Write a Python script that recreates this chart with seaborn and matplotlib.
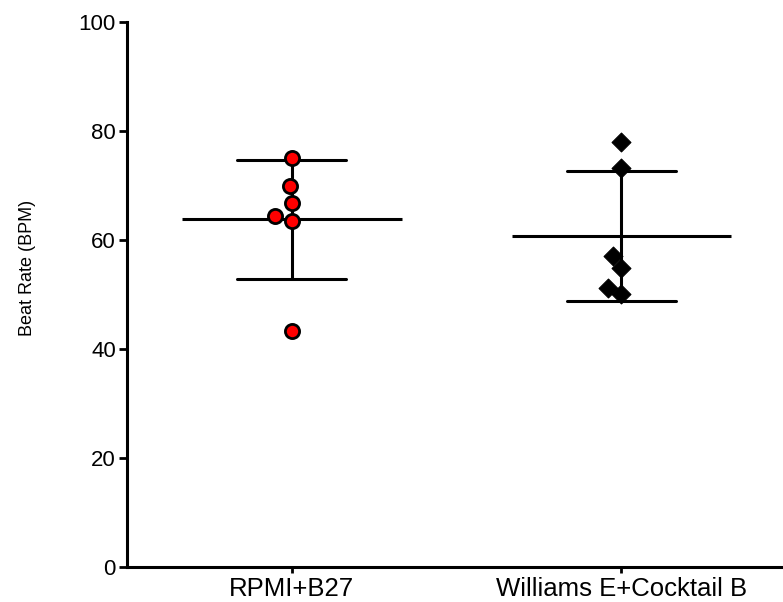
import pandas as pd
import numpy as np
import matplotlib
matplotlib.use("Agg")
import matplotlib.pyplot as plt
import seaborn as sns

# data
groups = ["RPMI+B27", "Williams E+Cocktail B"]
rpmi = [75.0, 69.9, 66.8, 64.4, 63.5, 43.3]
williams = [78.0, 73.2, 57.1, 54.9, 51.2, 50.1]

df = pd.DataFrame({
    "group": [groups[0]] * len(rpmi) + [groups[1]] * len(williams),
    "bpm": rpmi + williams,
})

sns.set_style("ticks")
plt.rcParams["font.family"] = ["Liberation Sans", "DejaVu Sans"]
plt.rcParams["text.color"] = "black"
plt.rcParams["axes.labelcolor"] = "black"
plt.rcParams["xtick.color"] = "black"
plt.rcParams["ytick.color"] = "black"

fig = plt.figure(figsize=(7.83, 6.02), dpi=100)
ax = fig.add_axes([0.1622, 0.0581, 0.8378, 0.9053])

# mean +/- SD error bars
sns.pointplot(data=df, x="group", y="bpm", order=groups, errorbar="sd",
              capsize=0.33, color="black", linestyle="none", marker="",
              err_kws={"linewidth": 2.2}, ax=ax)

# long mean lines
means = df.groupby("group", sort=False)["bpm"].mean().reindex(groups)
pos = np.arange(len(groups))
ax.hlines(means.values, pos - 0.333, pos + 0.333, color="black", linewidth=2.2, zorder=2)

# individual points
sns.swarmplot(data=df[df.group == groups[0]], x="group", y="bpm", order=groups,
              color="#ff0000", edgecolor="black", linewidth=2, size=10.2,
              marker="o", ax=ax, zorder=3)
sns.swarmplot(data=df[df.group == groups[1]], x="group", y="bpm", order=groups,
              color="black", edgecolor="black", linewidth=0.8, size=9.6,
              marker="D", ax=ax, zorder=3)

ax.set_xlim(-0.5, 1.49)
ax.set_ylim(0, 100)
ax.set_yticks([0, 20, 40, 60, 80, 100])
ax.set_xlabel("")
ax.set_ylabel("Beat Rate (BPM)", fontsize=13)
ax.yaxis.set_label_coords(-0.138, 0.549)
ax.tick_params(axis="y", labelsize=16, width=2, length=6, pad=2)
ax.tick_params(axis="x", labelsize=18.5, width=2, length=4, pad=3)
for s in ["left", "bottom"]:
    ax.spines[s].set_linewidth(2.2)
    ax.spines[s].set_color("black")
sns.despine(ax=ax)

fig.savefig("out.png", dpi=100)
